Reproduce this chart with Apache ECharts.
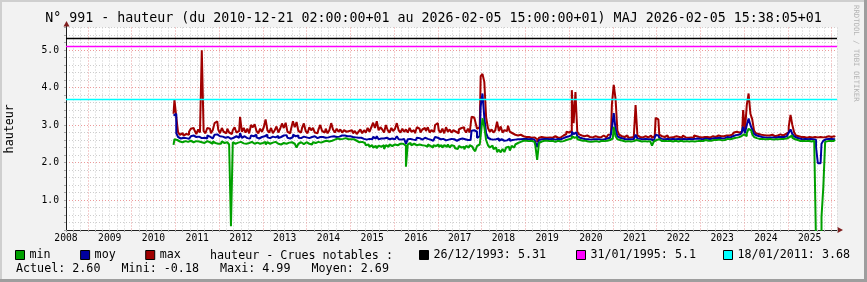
<!DOCTYPE html>
<html><head><meta charset="utf-8">
<script src="https://cdn.jsdelivr.net/npm/echarts@6/dist/echarts.min.js"></script>
<style>html,body{margin:0;padding:0;background:#f2f2f2;}#c{width:867px;height:282px;}</style>
</head><body><div id="c"></div>
<script>
const FONT = '"DejaVu Sans Mono", monospace';
const titleText = 'N° 991 - hauteur (du 2010-12-21 02:00:00+01 au 2026-02-05 15:00:00+01) MAJ 2026-02-05 15:38:05+01';
const legendHeader = 'hauteur - Crues notables :';
const statsText = 'Actuel: 2.60   Mini: -0.18   Maxi: 4.99   Moyen: 2.69';
const seriesNames = ['min', 'moy', 'max'];
const ruleNames = ['26/12/1993: 5.31', '31/01/1995: 5.1', '18/01/2011: 3.68'];
const ruleValues = [5.31, 5.1, 3.68];
const yLabelValues = [1, 2, 3, 4, 5];
const firstLabelYear = 2008;   // x = 0 is mid-2008
const startMonth = 29.5;       // first sample, months after 2008-07-01 (mid Dec 2010)
const stepMonths = 0.5;        // half-month samples

const maxVals = [3.30,
 3.67,3.22,2.80,2.74,2.78,2.72,2.76,2.74,2.82,2.90,2.92,2.86,2.76,2.88,2.80,4.99,2.84,2.78,2.92,2.90,2.78,2.86,3.05,3.10,
 2.88,2.78,2.92,2.82,2.78,2.90,2.80,2.76,2.86,2.94,2.80,2.84,3.22,2.82,2.92,2.80,2.90,2.78,3.00,2.94,3.02,2.84,2.78,2.90,
 2.82,2.94,3.15,2.86,2.80,2.92,2.78,2.86,2.96,2.80,2.90,3.04,2.92,3.06,2.82,2.78,2.90,3.10,2.94,3.08,2.84,2.80,2.92,3.04,
 2.84,2.78,2.94,2.86,2.92,2.80,2.78,2.88,3.00,2.84,2.80,2.90,2.78,2.86,3.05,2.88,2.80,2.90,2.82,2.88,2.80,2.86,2.82,2.84,
 2.80,2.86,2.78,2.84,2.76,2.82,2.88,2.78,2.86,2.80,2.92,2.82,2.94,3.06,2.92,3.10,2.86,2.94,2.88,2.80,3.00,2.86,2.80,2.92,
 2.84,2.90,3.05,2.86,2.80,2.90,2.82,2.88,2.80,2.92,2.82,2.86,2.78,2.94,2.90,2.80,2.88,2.92,2.84,2.94,2.80,2.86,2.82,3.00,
 3.05,2.86,2.80,2.90,2.78,2.94,2.82,2.88,2.80,2.86,2.82,2.78,2.88,2.92,2.94,2.88,2.80,2.90,2.80,3.22,3.20,3.10,2.90,2.94,
 4.30,4.36,4.15,3.20,2.92,2.82,2.88,2.80,2.86,3.09,2.84,2.96,2.80,2.86,2.84,2.98,2.82,2.78,2.74,2.76,2.72,2.74,2.72,2.70,
 2.68,2.67,2.68,2.66,2.70,2.67,2.62,2.55,2.66,2.68,2.67,2.72,2.66,2.67,2.68,2.66,2.70,2.68,2.66,2.67,2.70,2.72,2.76,2.82,
 2.80,2.84,3.93,3.05,3.88,2.82,2.75,2.72,2.70,2.68,2.72,2.68,2.66,2.67,2.70,2.66,2.68,2.67,2.66,2.72,2.67,2.70,2.74,2.75,
 3.55,4.07,3.70,2.85,2.74,2.70,2.68,2.67,2.72,2.66,2.67,2.68,2.70,3.53,2.72,2.68,2.67,2.66,2.70,2.67,2.66,2.72,2.66,2.70,
 3.19,3.15,2.74,2.70,2.68,2.67,2.72,2.66,2.67,2.68,2.66,2.70,2.68,2.67,2.66,2.72,2.67,2.66,2.68,2.67,2.66,2.72,2.70,2.68,
 2.68,2.67,2.68,2.70,2.68,2.67,2.72,2.70,2.68,2.70,2.72,2.70,2.68,2.70,2.72,2.74,2.72,2.74,2.76,2.80,2.82,2.80,2.84,2.82,
 3.40,2.85,3.53,3.84,3.30,3.15,2.85,2.78,2.76,2.74,2.72,2.73,2.72,2.70,2.72,2.74,2.72,2.70,2.72,2.74,2.75,2.72,2.74,2.76,
 2.80,2.95,3.27,3.00,2.80,2.72,2.70,2.68,2.67,2.68,2.66,2.67,2.68,2.67,2.66,2.68,2.67,2.66,2.68,2.67,2.66,2.68,2.70,2.68,
 2.68,2.70,2.68];

const moyVals = [3.25,
 3.30,2.78,2.68,2.64,2.66,2.62,2.65,2.63,2.68,2.70,2.72,2.68,2.64,2.69,2.65,2.70,2.66,2.64,2.72,2.69,2.64,2.67,2.74,2.75,
 2.70,2.65,2.69,2.66,2.64,2.68,2.63,2.60,2.66,2.70,2.65,2.66,2.78,2.66,2.70,2.65,2.68,2.64,2.72,2.70,2.74,2.67,2.64,2.68,
 2.66,2.70,2.74,2.67,2.65,2.69,2.64,2.67,2.71,2.65,2.68,2.72,2.70,2.73,2.66,2.64,2.68,2.74,2.70,2.72,2.66,2.65,2.69,2.72,
 2.67,2.65,2.70,2.68,2.70,2.66,2.65,2.68,2.72,2.68,2.66,2.69,2.67,2.69,2.74,2.70,2.68,2.71,2.69,2.72,2.70,2.72,2.70,2.70,
 2.70,2.68,2.70,2.67,2.66,2.67,2.66,2.63,2.64,2.61,2.63,2.60,2.62,2.68,2.64,2.70,2.62,2.64,2.64,2.60,2.66,2.62,2.61,2.64,
 2.62,2.64,2.70,2.62,2.61,2.63,2.61,2.50,2.62,2.63,2.61,2.63,2.60,2.66,2.65,2.61,2.63,2.66,2.63,2.66,2.61,2.58,2.62,2.68,
 2.66,2.62,2.60,2.63,2.59,2.64,2.61,2.63,2.59,2.62,2.58,2.57,2.62,2.64,2.65,2.62,2.60,2.63,2.60,2.85,2.86,2.82,2.66,2.70,
 3.50,3.84,3.20,2.78,2.66,2.62,2.61,2.60,2.62,2.64,2.58,2.62,2.58,2.60,2.59,2.64,2.58,2.60,2.61,2.62,2.62,2.62,2.63,2.63,
 2.63,2.63,2.62,2.63,2.62,2.61,2.55,2.41,2.60,2.62,2.63,2.62,2.63,2.62,2.62,2.63,2.61,2.62,2.63,2.62,2.64,2.65,2.68,2.72,
 2.70,2.73,2.82,2.76,2.80,2.70,2.66,2.64,2.63,2.62,2.62,2.63,2.61,2.62,2.63,2.62,2.62,2.62,2.61,2.62,2.62,2.64,2.66,2.68,
 2.90,3.32,2.90,2.70,2.66,2.64,2.63,2.62,2.62,2.63,2.62,2.62,2.64,2.74,2.64,2.63,2.62,2.62,2.63,2.62,2.62,2.62,2.58,2.63,
 2.74,2.72,2.66,2.63,2.62,2.62,2.63,2.62,2.62,2.63,2.62,2.62,2.63,2.62,2.62,2.63,2.62,2.62,2.63,2.62,2.62,2.63,2.64,2.63,
 2.63,2.62,2.63,2.64,2.63,2.62,2.63,2.65,2.63,2.65,2.66,2.65,2.64,2.65,2.67,2.68,2.67,2.68,2.70,2.73,2.75,2.74,2.77,2.75,
 2.95,2.78,3.00,3.17,3.00,2.88,2.76,2.72,2.70,2.68,2.68,2.67,2.67,2.66,2.67,2.68,2.67,2.66,2.67,2.68,2.68,2.67,2.68,2.70,
 2.72,2.80,2.88,2.76,2.70,2.66,2.64,2.63,2.62,2.63,2.62,2.62,2.63,2.62,2.62,2.61,2.40,1.98,1.98,2.50,2.58,2.62,2.63,2.62,
 2.63,2.62,2.62];

const minVals = [2.47,
 2.62,2.60,2.56,2.58,2.54,2.57,2.52,2.55,2.58,2.53,2.54,2.57,2.52,2.56,2.54,2.56,2.52,2.57,2.53,2.54,2.50,2.56,2.52,2.50,
 2.54,2.50,2.56,2.52,2.54,2.50,2.48,0.30,2.54,2.50,2.53,2.49,2.55,2.51,2.54,2.50,2.52,2.48,2.55,2.50,2.47,2.53,2.50,2.54,
 2.52,2.55,2.48,2.54,2.50,2.53,2.48,2.55,2.50,2.54,2.48,2.52,2.55,2.50,2.53,2.48,2.54,2.50,2.52,2.40,2.50,2.54,2.49,2.52,
 2.54,2.50,2.53,2.48,2.54,2.52,2.55,2.50,2.53,2.56,2.54,2.58,2.56,2.60,2.58,2.61,2.62,2.64,2.62,2.65,2.63,2.65,2.64,2.62,
 2.62,2.60,2.62,2.58,2.57,2.54,2.55,2.50,2.52,2.46,2.48,2.42,2.46,2.40,2.44,2.38,2.45,2.42,2.46,2.36,2.46,2.42,2.48,2.44,
 2.48,2.44,2.46,2.50,2.47,2.50,2.45,1.89,2.48,2.52,2.46,2.50,2.46,2.42,2.48,2.46,2.50,2.45,2.42,2.48,2.44,2.40,2.46,2.44,
 2.48,2.42,2.46,2.40,2.46,2.42,2.48,2.40,2.46,2.44,2.38,2.36,2.44,2.40,2.42,2.35,2.44,2.40,2.46,2.42,2.36,2.30,2.44,2.48,
 2.70,3.18,2.95,2.60,2.46,2.40,2.45,2.36,2.40,2.28,2.34,2.27,2.36,2.28,2.40,2.42,2.32,2.44,2.40,2.48,2.52,2.55,2.57,2.58,
 2.58,2.58,2.57,2.58,2.56,2.55,2.45,2.07,2.52,2.56,2.58,2.57,2.58,2.57,2.56,2.58,2.55,2.57,2.58,2.56,2.58,2.57,2.60,2.62,
 2.62,2.64,2.70,2.66,2.68,2.62,2.60,2.58,2.57,2.58,2.56,2.57,2.55,2.56,2.58,2.57,2.55,2.56,2.58,2.57,2.56,2.58,2.60,2.62,
 2.64,2.95,2.70,2.62,2.60,2.58,2.57,2.56,2.57,2.58,2.56,2.57,2.58,2.60,2.58,2.57,2.56,2.57,2.58,2.56,2.57,2.55,2.45,2.56,
 2.60,2.62,2.58,2.57,2.58,2.56,2.57,2.58,2.57,2.56,2.58,2.57,2.56,2.58,2.57,2.56,2.57,2.58,2.56,2.57,2.58,2.56,2.57,2.58,
 2.58,2.57,2.58,2.60,2.58,2.57,2.58,2.60,2.58,2.60,2.61,2.60,2.59,2.60,2.62,2.63,2.62,2.63,2.64,2.66,2.68,2.67,2.70,2.68,
 2.75,2.70,2.78,2.90,2.85,2.75,2.68,2.65,2.63,2.62,2.63,2.62,2.61,2.62,2.63,2.62,2.61,2.62,2.63,2.62,2.63,2.62,2.63,2.64,
 2.66,2.68,2.72,2.66,2.62,2.60,2.58,2.57,2.58,2.56,2.57,2.58,2.57,2.56,2.58,2.55,-0.18,-0.18,-0.18,0.55,1.35,2.55,2.57,2.58,
 2.58,2.57,2.60];

// ---- layout / style ----
const W = 867, H = 282;
const G = {left: 66, top: 27.5, right: 30, bottom: 52};
const xMax = 211.5;
const GRIDC = '#cdcdcd';
const MGRIDC = '#eb9a9a';
const AXISC = '#1f1f1f';
const ARROWC = '#801f1f';
const colors = {min: '#00a000', moy: '#0000a0', max: '#a00000'};
const ruleColors = ['#000000', '#ff00ff', '#00ffff'];
const txt = (size) => ({fontFamily: FONT, fontSize: size, color: '#000', fontWeight: 'normal'});

const pts = arr => arr.map((v, i) => [startMonth + i * stepMonths, v]);
const valsByName = {min: minVals, moy: moyVals, max: maxVals};

const chart = echarts.init(document.getElementById('c'), null, {renderer: 'canvas'});
const axisY = H - G.bottom, axisX = G.left, rightX = W - G.right;

const lineSeries = ['max', 'moy', 'min'].map((n, i) => ({
  name: n, type: 'line', data: pts(valsByName[n]), step: 'middle',
  showSymbol: false, symbol: 'none', z: 3 + i, clip: true,
  lineStyle: {width: 2, color: colors[n]}, itemStyle: {color: colors[n]}
}));
const ruleSeries = ruleNames.map((n, i) => ({
  name: n, type: 'line', data: [], z: 10,
  itemStyle: {color: ruleColors[i]}, lineStyle: {color: ruleColors[i]},
  markLine: {silent: true, symbol: 'none', animation: false, label: {show: false},
    lineStyle: {color: ruleColors[i], width: 1.3, type: 'solid'},
    data: [{yAxis: ruleValues[i]}]}
}));

const legendBase = {
  orient: 'horizontal', icon: 'rect', itemWidth: 9, itemHeight: 9, padding: 0,
  selectedMode: false, top: 249,
  itemStyle: {borderColor: '#000', borderWidth: 1},
  textStyle: txt(11.7)
};

chart.setOption({
  animation: false,
  backgroundColor: '#f2f2f2',
  title: [
    {text: titleText, left: 'center', top: 12.5, padding: 0, textStyle: txt(13.3)},
    {text: legendHeader, left: 210, top: 249.5, padding: 0, textStyle: txt(11.7)},
    {text: statsText, left: 16, top: 262.5, padding: 0, textStyle: txt(11.7)}
  ],
  legend: [
    Object.assign({}, legendBase, {data: seriesNames, left: 15, itemGap: 29.5}),
    Object.assign({}, legendBase, {data: [ruleNames[0]], left: 419}),
    Object.assign({}, legendBase, {data: [ruleNames[1]], left: 576}),
    Object.assign({}, legendBase, {data: [ruleNames[2]], left: 723})
  ],
  grid: Object.assign({show: true, backgroundColor: '#ffffff', borderWidth: 0, containLabel: false}, G),
  xAxis: {
    type: 'value', min: 0, max: xMax, interval: 2,
    axisLine: {show: true, onZero: false, lineStyle: {color: AXISC, width: 1}},
    axisTick: {show: true, length: 2, lineStyle: {color: '#aaa'}},
    axisLabel: {margin: 3, ...txt(9.7),
      formatter: v => (Math.round(v) % 12 === 0 ? String(firstLabelYear + Math.round(v) / 12) : '')},
    splitLine: {show: true, lineStyle: {color: [GRIDC, GRIDC, GRIDC, MGRIDC, GRIDC, GRIDC], type: [1, 2], width: 1}}
  },
  yAxis: {
    type: 'value', min: 0.2, max: 5.6, interval: 0.2,
    axisLine: {show: true, onZero: false, lineStyle: {color: AXISC, width: 1}},
    axisTick: {show: true, length: 2, lineStyle: {color: '#aaa'}},
    axisLabel: {margin: 7, ...txt(9.7),
      formatter: v => {
        const r = Math.round(v);
        return (Math.abs(v - r) < 1e-6 && yLabelValues.indexOf(r) >= 0) ? r.toFixed(1) : '';
      }},
    splitLine: {show: true, lineStyle: {color: [GRIDC, GRIDC, GRIDC, GRIDC, MGRIDC], type: [1, 2], width: 1}}
  },
  series: lineSeries.concat(ruleSeries),
  graphic: [
    {type: 'rect', shape: {x: 0, y: 0, width: W, height: 2}, style: {fill: '#cfcfcf'}, silent: true},
    {type: 'rect', shape: {x: 0, y: 0, width: 2, height: H}, style: {fill: '#cfcfcf'}, silent: true},
    {type: 'rect', shape: {x: W - 3, y: 0, width: 3, height: H}, style: {fill: '#9e9e9e'}, silent: true},
    {type: 'rect', shape: {x: 0, y: H - 3, width: W, height: 3}, style: {fill: '#9e9e9e'}, silent: true},
    {type: 'line', shape: {x1: axisX + 0.5, y1: G.top, x2: axisX + 0.5, y2: G.top - 5}, style: {stroke: AXISC, lineWidth: 1}, silent: true},
    {type: 'polygon', shape: {points: [[axisX - 2.5, G.top - 1], [axisX + 3.5, G.top - 1], [axisX + 0.5, G.top - 6.5]]}, style: {fill: ARROWC}, silent: true},
    {type: 'polygon', shape: {points: [[rightX + 0.5, axisY - 3], [rightX + 0.5, axisY + 3], [rightX + 6, axisY]]}, style: {fill: ARROWC}, silent: true},
    {type: 'text', x: 10, y: (G.top + axisY) / 2, rotation: Math.PI / 2,
      style: {text: 'hauteur', fontFamily: FONT, fontSize: 11.7, fill: '#000', align: 'center', verticalAlign: 'middle'}, silent: true},
    {type: 'text', x: 856, y: 5, rotation: -Math.PI / 2,
      style: {text: 'RRDTOOL / TOBI OETIKER', fontFamily: FONT, fontSize: 7.3, fill: '#b4b4b4', align: 'left', verticalAlign: 'middle'}, silent: true}
  ]
});
</script>
</body></html>
